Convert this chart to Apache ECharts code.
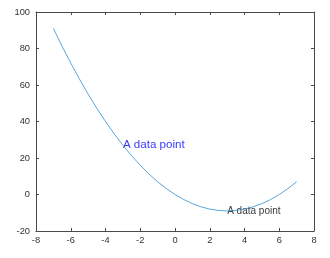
<!DOCTYPE html>
<html><head><meta charset="utf-8">
<script src="https://cdn.jsdelivr.net/npm/echarts@6/dist/echarts.min.js"></script>
<style>html,body{margin:0;padding:0;background:#fff}#c{width:330px;height:258px}</style>
</head><body><div id="c"></div>
<script>
var xValues = [-7,-6.5,-6,-5.5,-5,-4.5,-4,-3.5,-3,-2.5,-2,-1.5,-1,-0.5,0,0.5,1,1.5,2,2.5,3,3.5,4,4.5,5,5.5,6,6.5,7];
var yValues = [91,81.25,72,63.25,55,47.25,40,33.25,27,21.25,16,11.25,7,3.25,0,-2.75,-5,-6.75,-8,-8.75,-9,-8.75,-8,-6.75,-5,-2.75,0,3.25,7];
var xTicks = {min:-8, max:8, step:2};
var yTicks = {min:-20, max:100, step:20};
var labels = [
  {x:-3, y:27, text:'A data point', big:true},
  {x:3, y:-9, text:'A data point', big:false}
];
var pts = xValues.map(function(x,i){return [x,yValues[i]];});
var axisColor = '#4a4a4a';
var FONT = '"Liberation Sans", Arial, sans-serif';
function xa(show, pos){
  return {type:'value', min:xTicks.min, max:xTicks.max, interval:xTicks.step, position:pos,
    axisLine:{show:true, onZero:false, lineStyle:{color:axisColor, width:1}},
    axisTick:{show:true, inside:true, length:3, lineStyle:{color:axisColor}},
    axisLabel:{show:show, color:'#333', fontSize:9.3, fontFamily:FONT, margin:5},
    splitLine:{show:false}};
}
function ya(show, pos){
  return {type:'value', min:yTicks.min, max:yTicks.max, interval:yTicks.step, position:pos,
    axisLine:{show:true, onZero:false, lineStyle:{color:axisColor, width:1}},
    axisTick:{show:true, inside:true, length:3, lineStyle:{color:axisColor}},
    axisLabel:{show:show, color:'#333', fontSize:9.3, fontFamily:FONT, margin:6},
    splitLine:{show:false}};
}
var chart = echarts.init(document.getElementById('c'), null, {renderer:'canvas'});
chart.setOption({
  animation:false,
  backgroundColor:'#fff',
  grid:{left:36, right:16, top:12, bottom:27},
  xAxis:[xa(true,'bottom'), xa(false,'top')],
  yAxis:[ya(true,'left'), ya(false,'right')],
  series:[
    {type:'line', data:pts, showSymbol:false, smooth:false,
     lineStyle:{color:'#2f8fd0', width:0.8}, silent:true},
    {type:'scatter', data:labels.map(function(l){return {value:[l.x,l.y], name:l.text,
        label:{show:true, position:'right', distance:0, formatter:l.text,
          color: l.big ? '#0000ff' : '#000', fontSize: l.big ? 11.6 : 10, fontFamily:FONT}};}),
     symbolSize:0, silent:true}
  ]
});
</script></body></html>
